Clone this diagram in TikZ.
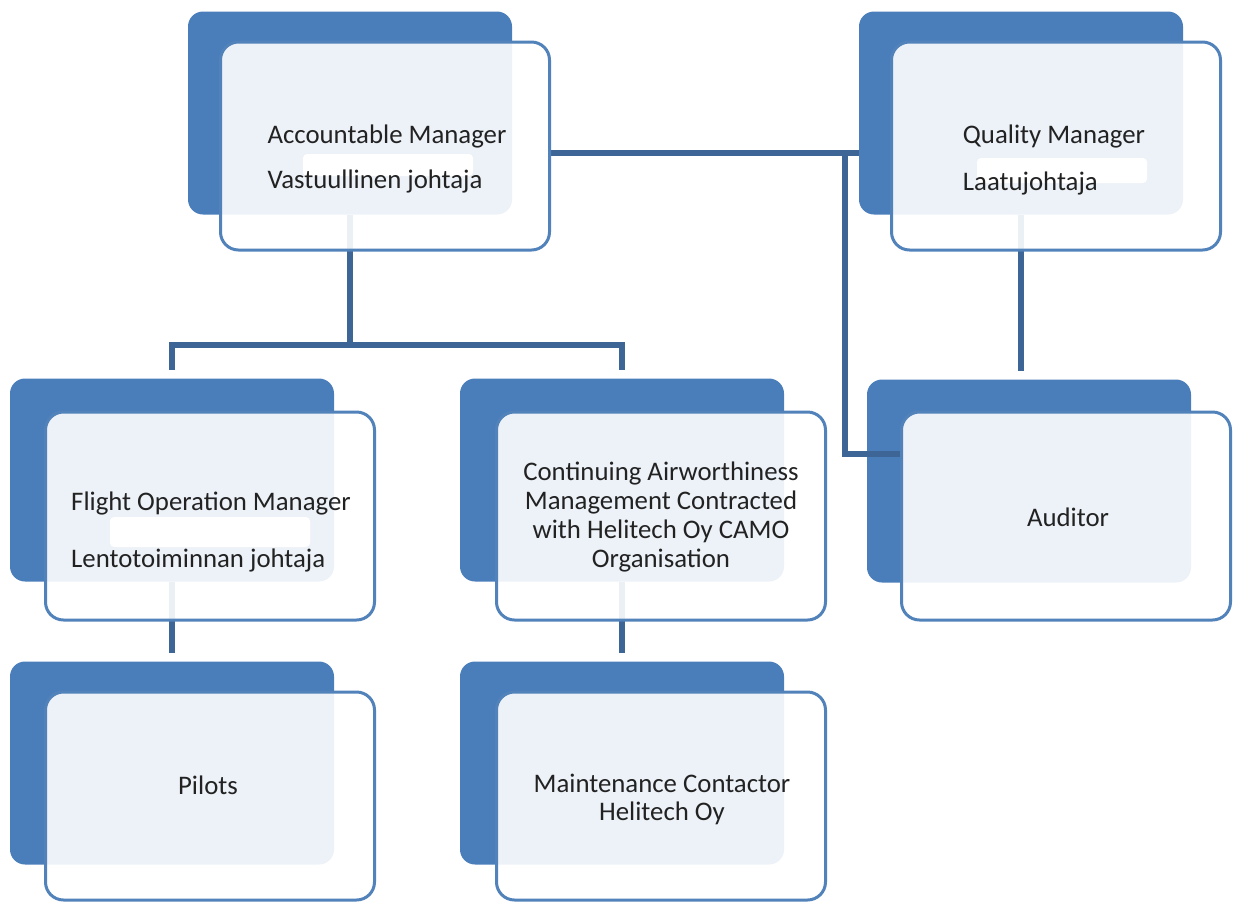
\documentclass[tikz,border=0pt]{standalone}
\usepackage{fontspec}
\setmainfont{Carlito}
\usetikzlibrary{calc}
\definecolor{accent}{HTML}{4A7EBB}
\definecolor{rim}{HTML}{5282BA}
\definecolor{wireblue}{HTML}{3D6696}
\definecolor{ink}{HTML}{222222}
\pgfdeclarelayer{tabs}
\pgfdeclarelayer{wires}
\pgfsetlayers{tabs,wires,main}

\begin{document}
\begin{tikzpicture}[
  x=0.5pt,y=-0.5pt,
  font=\fontsize{13.4}{16}\selectfont,
  tab/.style={rectangle,rounded corners=7.5pt,fill=accent,
              minimum width=162pt,minimum height=101.5pt,inner sep=0pt},
  card/.style={rectangle,rounded corners=9pt,draw=rim,line width=1.5pt,fill=white,
               fill opacity=0.9,minimum width=164.5pt,minimum height=104pt,inner sep=0pt},
  wire/.style={draw=wireblue,line width=3pt},
  lbl/.style={text=ink,align=left,inner sep=0pt},
  hl/.style={fill=white,rounded corners=2pt}
]
\useasboundingbox (0,0) rectangle (1233,901);

% blue tabs behind the cards
\begin{pgfonlayer}{tabs}
\node[tab] (am-t)   at (350,113)  {};
\node[tab] (qm-t)   at (1021,113) {};
\node[tab] (fom-t)  at (172,480)  {};
\node[tab] (camo-t) at (622,480)  {};
\node[tab] (aud-t)  at (1029,481) {};
\node[tab] (pil-t)  at (172,763)  {};
\node[tab] (mnt-t)  at (622,763)  {};
\end{pgfonlayer}

\node[card] (am)   at (385,146)  {};
\node[card] (qm)   at (1056,146) {};
\node[card] (fom)  at (210,516)  {};
\node[card] (camo) at (661,516)  {};
\node[card] (aud)  at (1066,516) {};
\node[card] (pil)  at (210,796)  {};
\node[card] (mnt)  at (661,796)  {};

\fill[hl] (303,154) rectangle (473,176);
\fill[hl] (977,158) rectangle (1147,183);
\fill[hl] (110,517) rectangle (310,547);

\node[lbl] (am-txt)  at (387,158.5) {Accountable Manager\\[6.5pt]Vastuullinen johtaja};
\node[lbl] (qm-txt)  at (1054,159.5) {Quality Manager\\[7.5pt]Laatujohtaja};
\node[lbl] (fom-txt) at (211,531.5) {Flight Operation Manager\\[12.5pt]Lentotoiminnan johtaja};
\node[lbl,align=center,font=\fontsize{13.4}{14.5}\selectfont] (camo-txt) at (661,516.5)
  {Continuing Airworthiness\\Management Contracted\\with Helitech Oy CAMO\\Organisation};
\node[lbl] (aud-txt) at (1068,517) {Auditor};
\node[lbl] (pil-txt) at (208,785) {Pilots};
\node[lbl,align=center,font=\fontsize{13.4}{14}\selectfont] (mnt-txt) at (662,799)
  {Maintenance Contactor\\Helitech Oy};

% connectors, between tabs and cards
\begin{pgfonlayer}{wires}
\coordinate (fork) at (350,345);
\coordinate (hub)  at (845,153);
\draw[wire] (am-t.south) -- (fork);
\draw[wire,shorten >=4pt] (fork) -| (fom-t.north);
\draw[wire,shorten >=4pt] (fork) -| (camo-t.north);
\draw[wire] (am.east |- hub) -- (hub) -- (hub -| qm-t.west);
\draw[wire] (hub) |- ([yshift=31pt]aud.west);
\draw[wire,shorten >=4pt] (qm-t.south) -- (qm-t.south |- aud-t.north);
\draw[wire,shorten >=4pt] (fom-t.south) -- (pil-t.north);
\draw[wire,shorten >=4pt] (camo-t.south) -- (mnt-t.north);
\end{pgfonlayer}
\end{tikzpicture}
\end{document}
